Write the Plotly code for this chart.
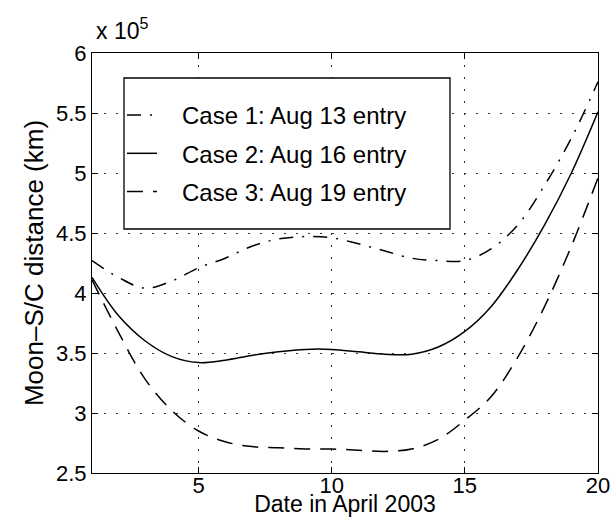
import plotly.graph_objects as go

# Days in April 2003
days = [1, 2, 3, 4, 5, 6, 7, 8, 9, 10, 11, 12, 13, 14, 15, 16, 17, 18, 19, 20]

# Moon - S/C distance (km)
case1 = [4.27e5, 4.13e5, 4.04e5, 4.10e5, 4.21e5, 4.29e5, 4.39e5, 4.45e5, 4.47e5, 4.46e5,
         4.41e5, 4.35e5, 4.29e5, 4.27e5, 4.27e5, 4.37e5, 4.57e5, 4.90e5, 5.29e5, 5.76e5]
case2 = [4.13e5, 3.81e5, 3.60e5, 3.47e5, 3.42e5, 3.44e5, 3.48e5, 3.51e5, 3.53e5, 3.53e5,
         3.51e5, 3.49e5, 3.49e5, 3.55e5, 3.68e5, 3.89e5, 4.20e5, 4.57e5, 5.00e5, 5.51e5]
case3 = [4.11e5, 3.67e5, 3.28e5, 3.02e5, 2.85e5, 2.76e5, 2.72e5, 2.71e5, 2.70e5, 2.70e5,
         2.69e5, 2.68e5, 2.70e5, 2.78e5, 2.94e5, 3.14e5, 3.47e5, 3.89e5, 4.39e5, 4.96e5]

names = ["Case 1: Aug 13 entry", "Case 2: Aug 16 entry", "Case 3: Aug 19 entry"]

xtick_vals = [5, 10, 15, 20]
ytick_vals = [2.5e5, 3.0e5, 3.5e5, 4.0e5, 4.5e5, 5.0e5, 5.5e5, 6.0e5]
ytick_text = ["2.5", "3", "3.5", "4", "4.5", "5", "5.5", "6"]

FONT = "Liberation Sans, Arial, Helvetica, sans-serif"
NB = "\u00a0\u00a0\u00a0"

# plot area in pixels
L, R, T, B = 92, 598, 53, 473
PW, PH = R - L, B - T

fig = go.Figure()
dashes = ["14px,9px,2px,9px", "solid", "16px,10px"]
for i, (ys, nm) in enumerate(zip([case1, case2, case3], names)):
    fig.add_trace(go.Scatter(
        x=days, y=ys, mode="lines", name=NB + nm,
        line=dict(color="black", width=1.5, dash=dashes[i], shape="spline", smoothing=1.0),
        legendgroup=f"g{i}",
    ))

# legend box
fig.add_shape(type="rect", xref="paper", yref="paper",
              x0=(124 - L) / PW, x1=(450 - L) / PW,
              y0=(B - 229) / PH, y1=(B - 78) / PH,
              line=dict(color="black", width=1.3), fillcolor="white", layer="above")

fig.add_annotation(xref="paper", yref="paper", x=0.004, y=1.017,
                   xanchor="left", yanchor="bottom", showarrow=False,
                   text="x 10<sup>5</sup>", font=dict(family=FONT, size=23, color="black"))

axis_common = dict(
    showline=True, linecolor="black", linewidth=1.2, mirror="ticks",
    ticks="inside", ticklen=6, tickcolor="black", tickwidth=1,
    showgrid=True, gridcolor="#333333", gridwidth=1, griddash="2px,10px",
    zeroline=False, tickfont=dict(family=FONT, size=22, color="black"),
)

fig.update_xaxes(range=[1, 20], tickvals=xtick_vals, ticklabelstandoff=-8, **axis_common,
                 title=dict(text="Date in April 2003", standoff=2,
                            font=dict(family=FONT, size=23, color="black")))
fig.update_yaxes(range=[2.5e5, 6.0e5], tickvals=ytick_vals, ticktext=ytick_text, **axis_common,
                 title=dict(text="Moon–S/C distance (km)", standoff=4,
                            font=dict(family=FONT, size=26, color="black")))

fig.update_layout(
    width=612, height=517,
    margin=dict(l=L, r=612 - R, t=T, b=517 - B, autoexpand=False),
    paper_bgcolor="white", plot_bgcolor="white",
    showlegend=True,
    legend=dict(x=(122 - L) / PW, y=(B - 93) / PH, xanchor="left", yanchor="top",
                bgcolor="rgba(0,0,0,0)", borderwidth=0, tracegroupgap=4,
                font=dict(family=FONT, size=24, color="black")),
)

fig.write_html("out.html")
